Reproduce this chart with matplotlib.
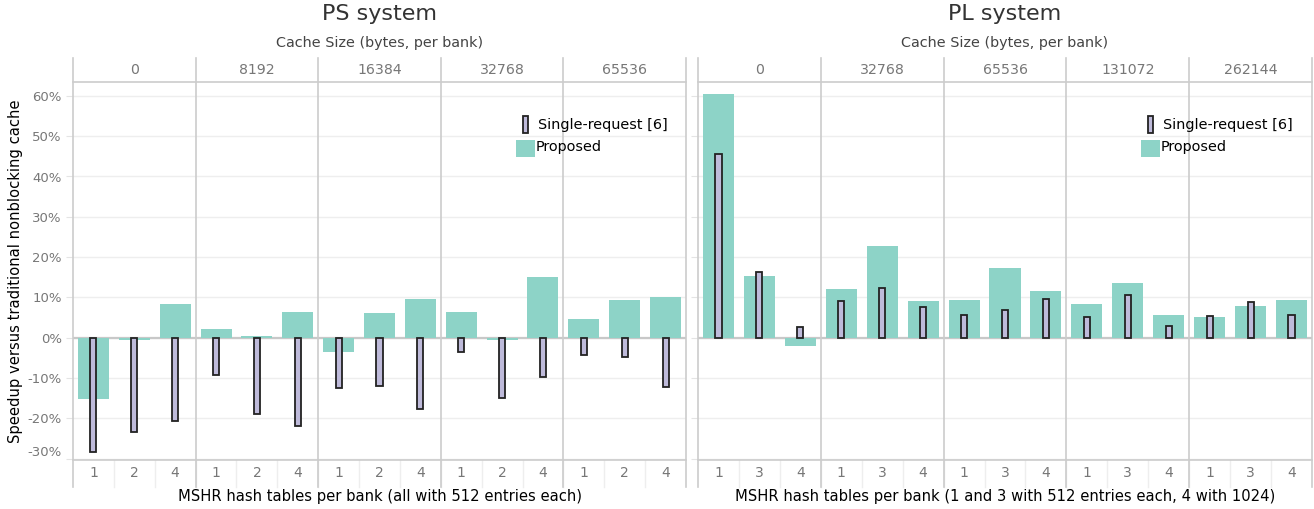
import matplotlib
matplotlib.use("Agg")
import matplotlib.pyplot as plt
from matplotlib.patches import Rectangle

# values in percent
ps_sizes = ['0', '8192', '16384', '32768', '65536']
ps_tables = ['1', '2', '4']
ps_proposed = [-15.1, -0.5, 8.4, 2.2, 0.4, 6.4, -3.5, 6.1, 9.6, 6.4, -0.5, 15.1, 4.6, 9.4, 10.1]
ps_single = [-28.4, -23.4, -20.7, -9.3, -18.9, -21.8, -12.6, -12.0, -17.8, -3.6, -15.0, -9.7, -4.3, -4.9, -12.3]

pl_sizes = ['0', '32768', '65536', '131072', '262144']
pl_tables = ['1', '3', '4']
pl_proposed = [60.5, 15.3, -2.0, 12.1, 22.8, 9.1, 9.4, 17.3, 11.6, 8.4, 13.6, 5.6, 5.1, 7.9, 9.4]
pl_single = [45.7, 16.2, 2.7, 9.0, 12.3, 7.5, 5.7, 6.9, 9.6, 5.1, 10.5, 3.0, 5.5, 8.8, 5.7]

yticks = list(range(-30, 61, 10))

GREEN = '#8dd3c7'
PURPLE = '#bebada'
LINE = '#cccccc'
GREY = '#777777'

W, H = 1314, 509
fig = plt.figure(figsize=(W / 100, H / 100), dpi=100)


def fx(x):
    return x / W


def fy(y):
    return 1 - y / H


def panel(left, width, title, sizes, tables, proposed, single, xlabel, show_y):
    ax = fig.add_axes([fx(left), fy(460), width / W, 378 / H])
    n = len(sizes) * len(tables)
    xs = list(range(n))
    ax.set_xlim(-0.5, n - 0.5)
    ax.set_ylim(-30.35, 63.45)
    for s in ax.spines.values():
        s.set_visible(False)
    ax.set_axisbelow(True)
    ax.yaxis.grid(True, color='#eeeeee', lw=1)
    ax.axhline(0, color='#c8c8c8', lw=1.6, zorder=1)

    ax.bar(xs, proposed, width=0.76, color=GREEN, zorder=2)
    ax.bar(xs, single, width=0.15, color=PURPLE, edgecolor='#222222', lw=1.3, zorder=3)

    ax.set_yticks(yticks)
    if show_y:
        ax.set_yticklabels([f'{v}%' for v in yticks])
        ax.get_yticklabels()[0].set_verticalalignment('bottom')
    else:
        ax.set_yticklabels([])
    ax.tick_params(axis='y', length=5, color='#e4e4e4', labelcolor=GREY, labelsize=9.5, pad=3)

    ax.set_xticks(xs)
    ax.set_xticklabels(tables * len(sizes))
    ax.tick_params(axis='x', length=0, labelcolor=GREY, labelsize=10, pad=4)

    tr = ax.get_xaxis_transform()
    top = (460 - 58) / 378
    bot = -27 / 378
    # band separators in the tick area
    for i in range(n - 1):
        ax.plot([i + 0.5, i + 0.5], [0, bot], color='#eeeeee', lw=1, transform=tr, clip_on=False)
    # facet borders
    for k in range(len(sizes) + 1):
        x = k * len(tables) - 0.5
        ax.plot([x, x], [top, bot], color=LINE, lw=1.2, transform=tr, clip_on=False, zorder=4)
    ax.plot([0, 1], [1, 1], color=LINE, lw=1.2, transform=ax.transAxes, clip_on=False)
    ax.plot([0, 1], [0, 0], color=LINE, lw=1.2, transform=ax.transAxes, clip_on=False)
    # facet strip labels
    for k, s in enumerate(sizes):
        ax.text(k * len(tables) + 1, (460 - 70) / 378, s, transform=tr, ha='center', va='center',
                color=GREY, fontsize=10.2)
    cx = left + width / 2
    fig.text(fx(cx), fy(43), 'Cache Size (bytes, per bank)', ha='center', va='center',
             color='#444444', fontsize=10.4)
    fig.text(fx(cx), fy(14), title, ha='center', va='center', color='#333333', fontsize=16)
    fig.text(fx(cx), fy(496), xlabel, ha='center', va='center', color='black', fontsize=10.6)

    # legend
    lx = left + 452
    fig.patches.append(Rectangle((fx(lx - 2.5), fy(133)), 5 / W, 17 / H, transform=fig.transFigure,
                                 facecolor=PURPLE, edgecolor='#222222', lw=1.3))
    fig.text(fx(lx + 13), fy(125), 'Single-request [6]', ha='left', va='center', fontsize=10.4)
    fig.patches.append(Rectangle((fx(lx - 9), fy(157)), 19 / W, 17 / H, transform=fig.transFigure,
                                 facecolor=GREEN, edgecolor='none'))
    fig.text(fx(lx + 11), fy(147), 'Proposed', ha='left', va='center', fontsize=10.4)
    return ax


panel(73, 613, 'PS system', ps_sizes, ps_tables, ps_proposed, ps_single,
      'MSHR hash tables per bank (all with 512 entries each)', True)
panel(698, 614, 'PL system', pl_sizes, pl_tables, pl_proposed, pl_single,
      'MSHR hash tables per bank (1 and 3 with 512 entries each, 4 with 1024)', False)

fig.text(fx(16), fy(271), 'Speedup versus traditional nonblocking cache', rotation=90,
         ha='center', va='center', fontsize=10.6)

fig.savefig('out.png', dpi=100)
